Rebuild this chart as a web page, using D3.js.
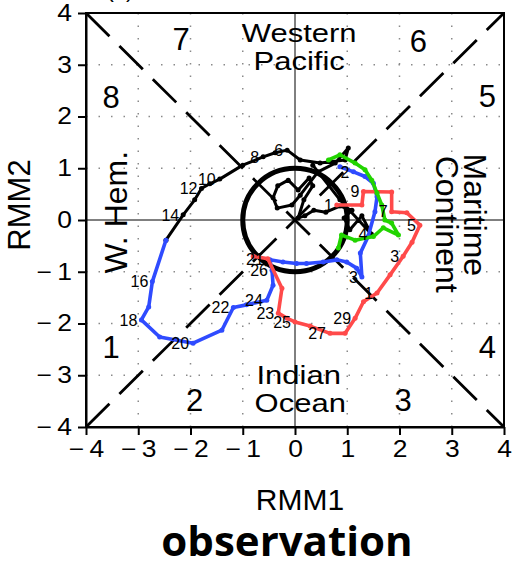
<!DOCTYPE html>
<html>
<head>
<meta charset="utf-8">
<script src="https://cdn.jsdelivr.net/npm/d3@7"></script>
<style>
  body { margin: 0; background: #fff; }
  svg { display: block; }
  text { font-family: "Liberation Sans", Arial, sans-serif; fill: #000; }
</style>
</head>
<body>
<svg id="chart" width="512" height="567"></svg>
<script>
// ---- data (RMM1, RMM2 per day) ----
var blackRMM1 = [0.34, 0.86, 1.46, 1.28, 1.05, 0.94, 1.09, 0.86, 0.59, 0.36, 0.19, 0.06, 0.17, 0.34, 0.27, 0.06, -0.13, -0.33, -0.42, -0.34,
                 -0.06, 0.10, 0.44, 0.77, 1.02, 0.96, 0.48, 0.10, -0.15, -0.38, -0.61, -1.00, -1.44, -1.63, -1.79, -1.92, -2.14, -2.47];
var blackRMM2 = [1.06, 0.39, -0.27, 0.08, -0.19, 0.04, 0.19, 0.27, 0.15, 0.19, 0.08, 0.04, 0.39, 0.66, 0.81, 0.58, 0.77, 0.66, 0.43, 0.23,
                 0.29, 0.48, 0.93, 1.10, 1.39, 1.16, 1.10, 1.16, 1.35, 1.30, 1.22, 1.06, 0.79, 0.70, 0.61, 0.39, 0.10, -0.39];
var blackDays = ["", "", "4", "", "", "", "", "", "", "", "", "", "", "", "", "", "", "", "", "",
                 "", "", "", "", "", "", "", "", "6", "", "8", "", "10", "", "12", "", "14", ""];

var blueRMM1 = [-2.47, -2.73, -2.80, -2.94, -2.59, -1.95, -1.40, -1.18, -0.93, -0.54, -0.42, -0.44, -0.48, -0.23, 0.03,
                0.22, 0.54, 0.80, 0.99, 1.18, 1.28, 1.25, 1.40, 1.53, 1.57, 1.50, 1.34, 1.12, 0.86];
var blueRMM2 = [-0.39, -1.19, -1.68, -1.93, -2.26, -2.38, -2.13, -1.69, -1.64, -1.55, -1.26, -0.97, -0.77, -0.81, -0.84,
                -0.84, -0.81, -0.77, -0.81, -0.93, -1.10, -0.64, -0.32, 0.16, 0.45, 0.71, 0.84, 0.93, 1.03];
var blueDays = ["", "16", "", "18", "", "20", "", "22", "", "24", "", "26", "", "", "",
                "", "", "", "", "", "3", "", "", "", "", "", "", "2", ""];

var redRMM1 = [-0.80, -0.52, -0.25, -0.32, -0.15, 0.00, 0.29, 0.67, 0.96, 1.15, 1.31,
               1.57, 1.82, 2.07, 2.24, 2.39, 2.14, 1.85, 1.85, 1.31, 1.28, 0.80];
var redRMM2 = [-0.70, -0.75, -1.32, -1.80, -1.90, -1.97, -2.05, -2.19, -2.19, -1.90, -1.58,
               -1.41, -1.06, -0.70, -0.43, -0.10, 0.14, 0.16, 0.54, 0.55, 0.29, 0.29];
var redDays = ["", "21", "", "23", "", "25", "", "27", "", "29", "",
               "1", "", "3", "", "5", "", "7", "", "9", "", "1"];

var greenRMM1 = [0.83, 0.89, 1.15, 1.50, 1.69, 1.98, 1.85, 1.72, 1.66, 1.57, 1.47, 1.34, 1.15, 0.86, 0.64];
var greenRMM2 = [-0.54, -0.29, -0.39, -0.32, -0.15, -0.29, -0.06, 0.00, 0.29, 0.52, 0.77, 0.97, 1.10, 1.26, 1.16];

var axisTicks = [-4, -3, -2, -1, 0, 1, 2, 3, 4];
var gridLines = [-3, -2, -1, 1, 2, 3];

var phaseNames = ["1", "2", "3", "4", "5", "6", "7", "8"];
var phaseX = [-3.52, -1.92, 2.07, 3.68, 3.68, 2.36, -2.18, -3.52];
var phaseY = [-2.46, -3.48, -3.48, -2.46, 2.40, 3.46, 3.50, 2.38];

// ---- scales ----
var x = d3.scaleLinear().domain([-4, 4]).range([86, 504]);
var y = d3.scaleLinear().domain([-4, 4]).range([427, 13]);

var svg = d3.select("#chart");

// dotted grid
svg.append("g").selectAll("line.gx")
  .data(gridLines).enter().append("line")
    .attr("x1", d => x(d)).attr("x2", d => x(d))
    .attr("y1", y(4)).attr("y2", y(-4))
    .attr("stroke", "#8a8a8a").attr("stroke-width", 1.5)
    .attr("stroke-dasharray", "1.5,11");
svg.append("g").selectAll("line.gy")
  .data(gridLines).enter().append("line")
    .attr("y1", d => y(d)).attr("y2", d => y(d))
    .attr("x1", x(-4)).attr("x2", x(4))
    .attr("stroke", "#8a8a8a").attr("stroke-width", 1.5)
    .attr("stroke-dasharray", "1.5,11");

// thin zero lines
svg.append("line").attr("x1", x(0)).attr("x2", x(0)).attr("y1", y(4)).attr("y2", y(-4))
  .attr("stroke", "#000").attr("stroke-width", 1);
svg.append("line").attr("x1", x(-4)).attr("x2", x(4)).attr("y1", y(0)).attr("y2", y(0))
  .attr("stroke", "#000").attr("stroke-width", 1);

// dashed diagonals
[[-4, -4, 4, 4], [-4, 4, 4, -4]].forEach(function(d) {
  svg.append("line")
    .attr("x1", x(d[0])).attr("y1", y(d[1])).attr("x2", x(d[2])).attr("y2", y(d[3]))
    .attr("stroke", "#000").attr("stroke-width", 2.8)
    .attr("stroke-dasharray", "33,14");
});

// unit circle
svg.append("ellipse")
  .attr("cx", x(0)).attr("cy", y(0))
  .attr("rx", x(1) - x(0)).attr("ry", y(0) - y(1))
  .attr("fill", "none").attr("stroke", "#000").attr("stroke-width", 5);

// frame + axes
svg.append("rect")
  .attr("x", x(-4)).attr("y", y(4))
  .attr("width", x(4) - x(-4)).attr("height", y(-4) - y(4))
  .attr("fill", "none").attr("stroke", "#000").attr("stroke-width", 2);

var fmt = d => d < 0 ? "\u2212\u2009" + Math.abs(d) : String(d);

var xAxis = svg.append("g")
  .attr("transform", "translate(0," + y(-4) + ")")
  .call(d3.axisBottom(x).tickValues(axisTicks).tickSize(8).tickSizeOuter(0).tickPadding(6).tickFormat(fmt));
var yAxis = svg.append("g")
  .attr("transform", "translate(" + x(-4) + ",0)")
  .call(d3.axisLeft(y).tickValues(axisTicks).tickSize(8).tickSizeOuter(0).tickPadding(6).tickFormat(fmt));

[xAxis, yAxis].forEach(function(g) {
  g.select(".domain").attr("stroke-width", 2);
  g.selectAll(".tick line").attr("stroke-width", 2);
  g.selectAll(".tick text")
    .style("font-size", "23px")
    .style("font-family", "'Liberation Sans', Arial, sans-serif")
    .attr("transform", "scale(1.15,1)");
});
yAxis.selectAll(".tick text").attr("x", -14 / 1.15);

// axis titles
svg.append("text").attr("x", x(0) + 5).attr("y", 510)
  .attr("text-anchor", "middle").style("font-size", "30px").text("RMM1");
svg.append("text")
  .attr("transform", "translate(30," + 205 + ") rotate(-90)")
  .attr("text-anchor", "middle").style("font-size", "31px").text("RMM2");

// panel tag, cut off at the top edge as in the source figure
svg.append("text").attr("x", 120).attr("y", -3)
  .attr("text-anchor", "middle").style("font-size", "22px").text("(a)");

// phase numbers
svg.append("g").selectAll("text")
  .data(phaseNames).enter().append("text")
    .attr("x", (d, i) => x(phaseX[i]))
    .attr("y", (d, i) => y(phaseY[i]))
    .attr("dy", "0.36em")
    .attr("text-anchor", "middle")
    .style("font-size", "31px")
    .text(d => d);

// region names (horizontal, wide NCL-like lettering)
function wideText(txt, cx, by) {
  svg.append("text")
    .attr("transform", "translate(" + cx + "," + by + ") scale(1.24,1)")
    .attr("text-anchor", "middle")
    .style("font-size", "25px")
    .text(txt);
}
wideText("Western", x(0.08), y(3.43));
wideText("Pacific", x(0.08), y(2.89));
wideText("Indian", x(0.07), y(-3.16));
wideText("Ocean", x(0.1), y(-3.71));

function sideText(txt, bx, cy, angle) {
  svg.append("text")
    .attr("transform", "translate(" + bx + "," + cy + ") rotate(" + angle + ")")
    .attr("text-anchor", "middle")
    .style("font-size", "32px")
    .text(txt);
}
sideText("Maritime", x(3.23), y(0.1), 90);
sideText("Continent", x(2.70), y(-0.08), 90);
sideText("W. Hem.", x(-3.22), y(0.15), -90);

// trajectories
var line = d3.line().x(d => x(d[0])).y(d => y(d[1]));
var series = [
  {r1: blackRMM1, r2: blackRMM2, days: blackDays, color: "#000000", w: 3},
  {r1: blueRMM1, r2: blueRMM2, days: blueDays, color: "#2f4bff", w: 3.6},
  {r1: redRMM1, r2: redRMM2, days: redDays, color: "#ff4a4a", w: 3.6},
  {r1: greenRMM1, r2: greenRMM2, days: null, color: "#22d400", w: 3.6}
];

var labelLayer = svg.append("g");
series.forEach(function(s) {
  var pts = d3.zip(s.r1, s.r2);
  svg.append("path")
    .attr("d", line(pts))
    .attr("fill", "none")
    .attr("stroke", s.color)
    .attr("stroke-width", s.w)
    .attr("stroke-linejoin", "round");
  svg.append("g").selectAll("circle")
    .data(pts).enter().append("circle")
      .attr("cx", d => x(d[0])).attr("cy", d => y(d[1]))
      .attr("r", 2.5).attr("fill", s.color);
  if (s.days) {
    labelLayer.selectAll(null)
      .data(pts.map((p, i) => [p[0], p[1], s.days[i]]).filter(d => d[2] !== ""))
      .enter().append("text")
        .attr("x", d => x(d[0]) - 4)
        .attr("y", d => y(d[1]))
        .attr("dy", "0.36em")
        .attr("text-anchor", "end")
        .style("font-size", "16px")
        .text(d => d[2]);
  }
});
labelLayer.raise();

// caption
svg.append("text").attr("x", 287).attr("y", 556)
  .attr("text-anchor", "middle")
  .style("font-family", "'Open Sans', 'Noto Sans', sans-serif")
  .style("font-weight", "bold")
  .style("font-size", "42px")
  .text("observation");
</script>
</body>
</html>
